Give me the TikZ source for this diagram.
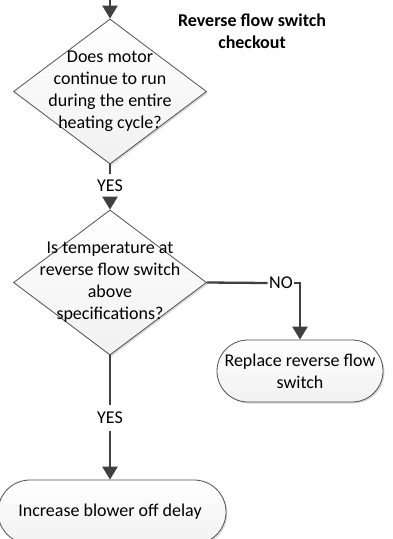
\documentclass[tikz,border=0pt]{standalone}
\usepackage{fontspec}
\setmainfont{Carlito}
\usetikzlibrary{shapes.geometric,arrows.meta,shadows}
\definecolor{arr}{HTML}{404040}
\definecolor{edge}{HTML}{505050}
\begin{document}
\begin{tikzpicture}[x=1pt,y=-1pt,
  font=\fontsize{18}{22}\selectfont,
  shad/.style={drop shadow={shadow xshift=1.5pt,shadow yshift=-1.5pt,fill=gray!50,opacity=0.6}},
  dia/.style={diamond, draw=edge, line width=0.8pt, top color=white, bottom color=gray!11,
    minimum width=193pt, minimum height=145pt, inner sep=0pt, shad},
  term/.style={rectangle, draw=edge, line width=0.8pt, top color=white, bottom color=gray!11,
    inner sep=0pt, align=center, shad},
  txt/.style={align=center, inner sep=0pt},
  lbl/.style={inner xsep=1.5pt, inner ysep=5.5pt},
  flow/.style={draw=arr, line width=2.5pt, -{Triangle[width=15pt,length=13pt]}},
  link/.style={draw=arr, line width=2.3pt}
]
\useasboundingbox (0,0) rectangle (392,539);

% shapes
\node[dia] (d1) at (110,91.5) {};
\node[dia] (d2) at (110,282.5) {};
\node[term, rounded corners=31pt, minimum width=166pt, minimum height=62pt] (b2) at (300,371) {};
\node[term, rounded corners=32pt, minimum width=228pt, minimum height=64pt] (b3) at (112,512) {};

% texts
\node[txt] (t1) at (d1.center) {Does motor\\continue to run\\during the entire\\heating cycle?};
\node[txt] (t2) at (d2.center) {Is temperature at\\reverse flow switch\\above\\specifications?};
\node[txt] (t3) at (b2.center) {Replace reverse flow\\switch};
\node[txt] (t4) at (110,512) {Increase blower off delay};
\node[txt, font=\fontsize{18}{22}\selectfont\bfseries] (title) at (252,31) {Reverse flow switch\\checkout};

% labels
\node[lbl] (yes1) at (110,186) {YES};
\node[lbl] (no) at (281,283) {NO};
\node[lbl, inner ysep=6.5pt] (yes2) at (110,418) {YES};

% connectors
\coordinate (start) at (110,0);
\draw[flow] (start) -- (d1.north);
\draw[link] (d1.south) -- (yes1.north);
\draw[flow] (yes1.south) -- (d2.north);
\draw[link] (d2.east) -- (no.west);
\draw[flow] (no.east) -| (b2.north);
\draw[link] (d2.south) -- (yes2.north);
\draw[flow] (yes2.south) -- (yes2.south |- b3.north);
\end{tikzpicture}
\end{document}
